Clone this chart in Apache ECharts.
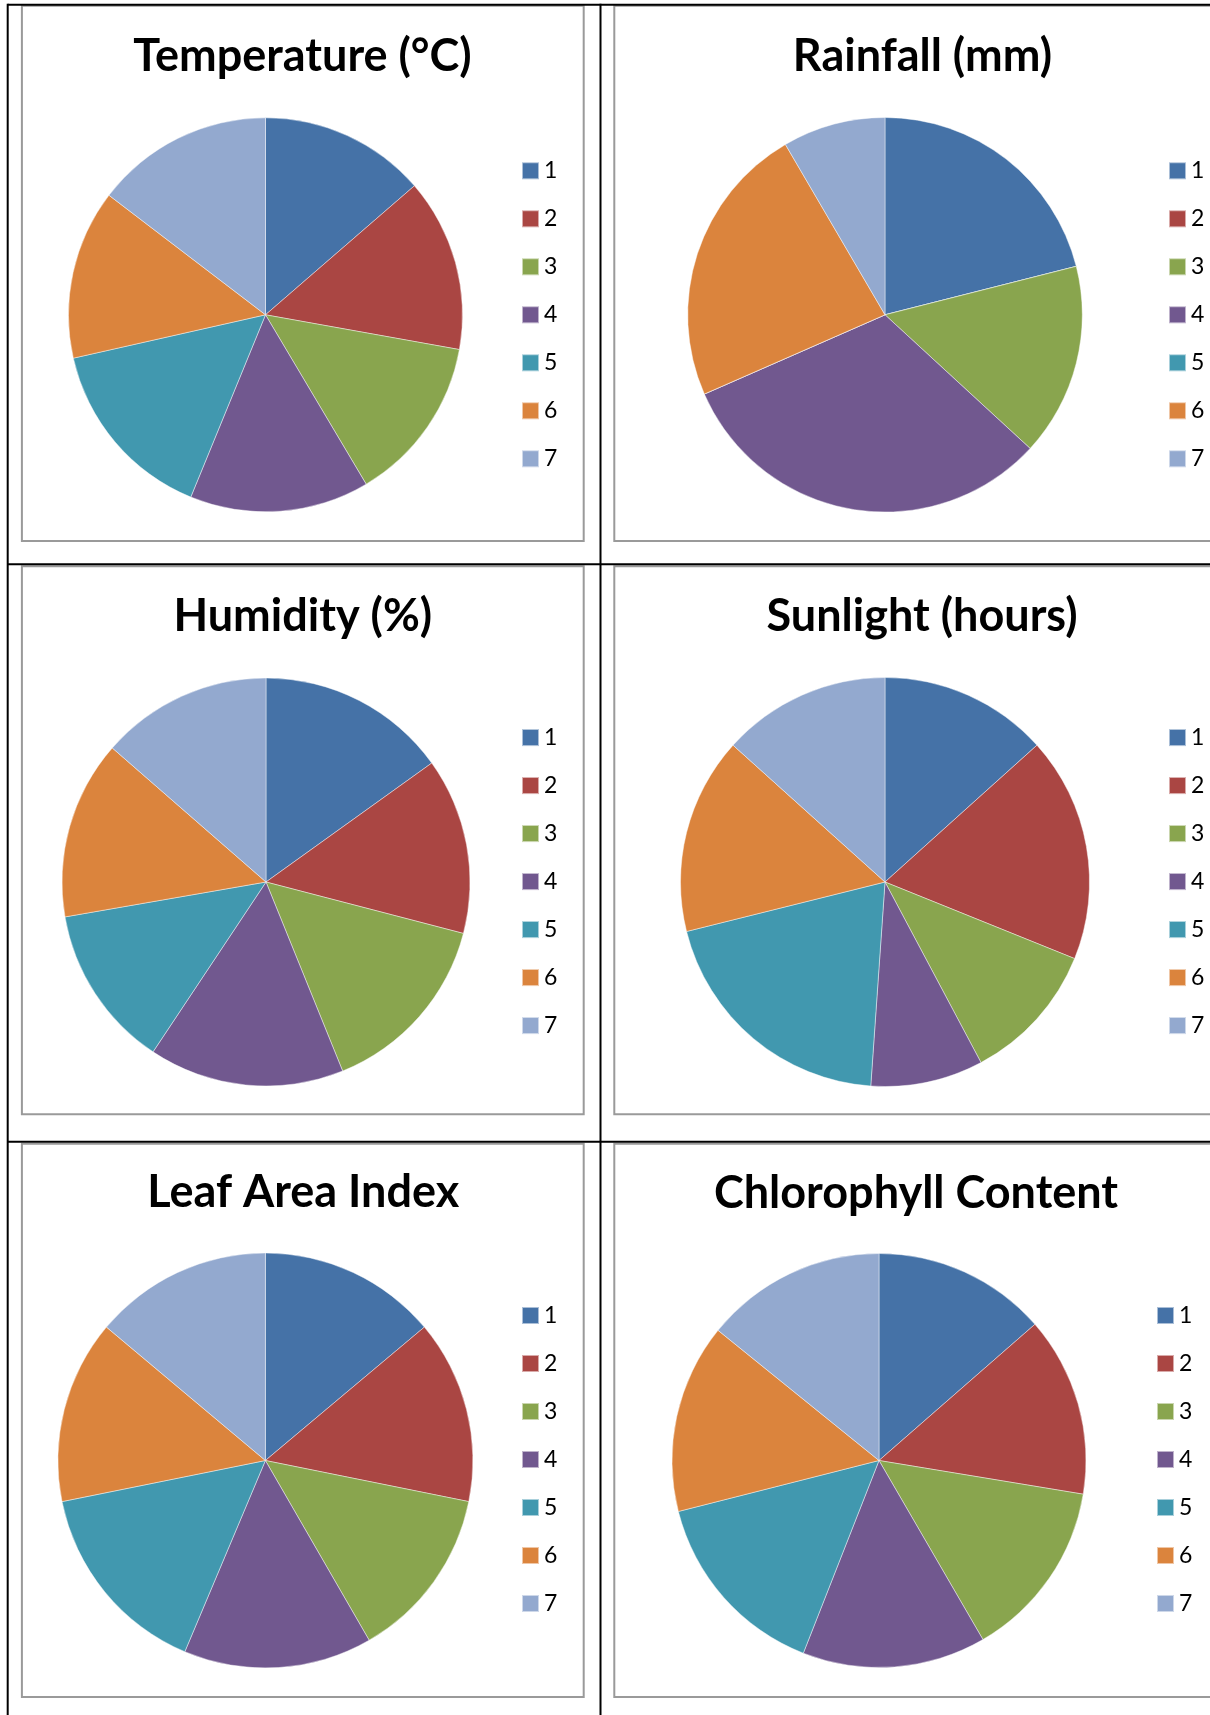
<!DOCTYPE html>
<html><head><meta charset="utf-8">
<script src="https://cdn.jsdelivr.net/npm/echarts@6/dist/echarts.min.js"></script>
<style>html,body{margin:0;padding:0;background:#fff;overflow:hidden}#c{width:1210px;height:1715px}</style>
</head><body><div id="c"></div>
<script>
// ---- data ----
const categories = ['1', '2', '3', '4', '5', '6', '7'];
const chartTitles = ['Temperature (°C)', 'Rainfall (mm)', 'Humidity (%)', 'Sunlight (hours)', 'Leaf Area Index', 'Chlorophyll Content'];
const temperature = [25, 26, 25, 27, 28, 25.5, 26.8];
const rainfall = [50, 0, 37.5, 75, 0, 55, 20];
const humidity = [80, 74, 78.5, 82, 68.5, 75, 72];
const sunlight = [6, 8, 5, 4, 9, 7, 6];
const leafAreaIndex = [3.5, 3.6, 3.4, 3.7, 3.9, 3.6, 3.5];
const chlorophyll = [45, 46.5, 46.5, 47.5, 50, 49, 47];
const seriesValues = [temperature, rainfall, humidity, sunlight, leafAreaIndex, chlorophyll];

// ---- style / layout ----
const palette = ['#4572A7', '#AA4643', '#89A54E', '#71588F', '#4198AF', '#DB843D', '#93A9CF'];
const FONT = 'Lato, "Open Sans", sans-serif';
const LEG_FS = 23;
const panels = [
  {cx: 265.5, cy: 314.8, r: 197,   tx: 302.5, ty: 56.5,  lx: 521,  ly: 170.8,  fr: [21.9, 5.7, 583.7, 541]},
  {cx: 885,   cy: 314.8, r: 197.3, tx: 922.4, ty: 56.5,  lx: 1168, ly: 170.8,  fr: [614.3, 5.7, 1260, 541]},
  {cx: 266,   cy: 882,   r: 204,   tx: 302.8, ty: 616.5, lx: 521,  ly: 737.6,  fr: [21.9, 566.3, 583.7, 1114.3]},
  {cx: 885,   cy: 882,   r: 204.5, tx: 922,   ty: 616.5, lx: 1168, ly: 737.6,  fr: [614.3, 566.3, 1260, 1114.3]},
  {cx: 265.4, cy: 1460.5, r: 207.5, tx: 303.2, ty: 1192.5, lx: 521,  ly: 1315.5, fr: [21.9, 1143.7, 583.7, 1697]},
  {cx: 879,   cy: 1460.5, r: 207,   tx: 916,   ty: 1193,   lx: 1156, ly: 1315.5, fr: [614.3, 1143.7, 1260, 1697]}
];

const chart = echarts.init(document.getElementById('c'), null, {renderer: 'canvas', width: 1210, height: 1715});

const titles = [], legends = [], series = [], graphics = [];
panels.forEach((p, i) => {
  titles.push({
    text: chartTitles[i], left: p.tx, top: p.ty, textAlign: 'center', textVerticalAlign: 'middle', padding: 0,
    textStyle: {fontFamily: FONT, fontWeight: 'bold', fontSize: 45, color: '#000'}
  });
  legends.push({
    data: categories.slice(), orient: 'vertical', left: p.lx, top: p.ly - LEG_FS / 2, padding: 0,
    itemWidth: 17, itemHeight: 17, itemGap: 48 - LEG_FS, icon: 'rect', selectedMode: false,
    textStyle: {fontFamily: FONT, fontSize: LEG_FS, color: '#000', padding: [0, 0, 0, 0]}
  });
  series.push({
    type: 'pie', name: chartTitles[i], center: [p.cx, p.cy], radius: p.r,
    startAngle: 90, clockwise: true, minAngle: 0, avoidLabelOverlap: false,
    label: {show: false}, labelLine: {show: false}, emphasis: {disabled: true},
    itemStyle: {borderColor: 'rgba(255,255,255,0.55)', borderWidth: 0.8},
    data: categories.map((c, k) => ({name: c, value: seriesValues[i][k], itemStyle: {color: palette[k]}}))
  });
  const f = p.fr;
  graphics.push({type: 'rect', shape: {x: f[0], y: f[1], width: f[2] - f[0], height: f[3] - f[1]},
    style: {fill: null, stroke: '#9a9a9a', lineWidth: 2}, silent: true});
});

// table borders (black)
const lines = [
  [7.7, 4.7, 1215, 4.7], [7.7, 3.7, 7.7, 1720], [600.5, 3.7, 600.5, 1720],
  [7.7, 564.3, 1215, 564.3], [7.7, 1141.7, 1215, 1141.7]
];
lines.forEach(l => graphics.push({type: 'line', shape: {x1: l[0], y1: l[1], x2: l[2], y2: l[3]},
  style: {stroke: '#000', lineWidth: 2}, silent: true}));

chart.setOption({
  backgroundColor: '#fff',
  animation: false,
  color: palette,
  title: titles,
  legend: legends,
  series: series,
  graphic: graphics
});
</script></body></html>
